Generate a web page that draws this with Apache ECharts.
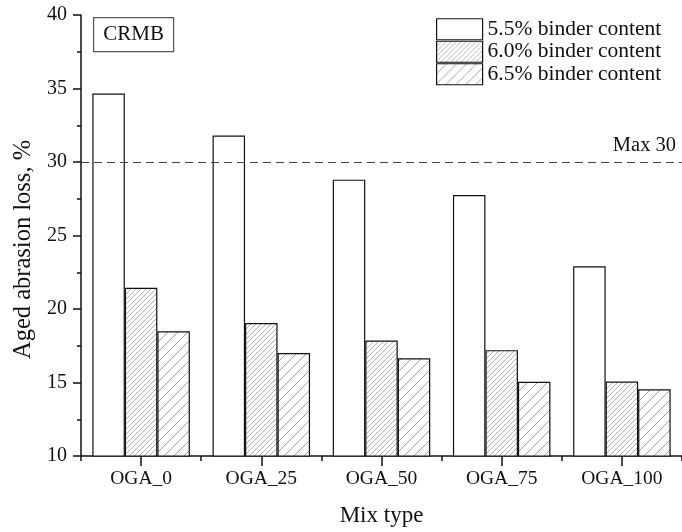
<!DOCTYPE html>
<html>
<head>
<meta charset="utf-8">
<script src="https://cdn.jsdelivr.net/npm/echarts@6/dist/echarts.min.js"></script>
<style>html,body{margin:0;padding:0;background:#fff}#c{width:682px;height:532px}</style>
</head>
<body>
<div id="c"></div>
<script>
const categories = ['OGA_0', 'OGA_25', 'OGA_50', 'OGA_75', 'OGA_100'];
const seriesNames = ['5.5% binder content', '6.0% binder content', '6.5% binder content'];
const binder55 = [34.66, 31.8, 28.8, 27.76, 22.9];
const binder60 = [21.45, 19.05, 17.85, 17.2, 15.06];
const binder65 = [18.48, 17.0, 16.65, 15.05, 14.54];
const limitValue = 30;
const limitLabel = 'Max 30';
const panelLabel = 'CRMB';
const yMin = 10, yMax = 40, yInterval = 5;
const xTitle = 'Mix type';
const yTitle = 'Aged abrasion loss, %';

const FONT = '"Liberation Serif", "DejaVu Serif", serif';

function hatch(step, color, width) {
  const c = document.createElement('canvas');
  c.width = step; c.height = step;
  const g = c.getContext('2d');
  g.fillStyle = '#fff';
  g.fillRect(0, 0, step, step);
  g.strokeStyle = color;
  g.lineWidth = width;
  g.beginPath();
  g.moveTo(-1, 1); g.lineTo(1, -1);
  g.moveTo(0, step); g.lineTo(step, 0);
  g.moveTo(step - 1, step + 1); g.lineTo(step + 1, step - 1);
  g.stroke();
  return { image: c, repeat: 'repeat' };
}

const chart = echarts.init(document.getElementById('c'), null, { renderer: 'canvas' });
const fills = ['#ffffff', hatch(5, '#a0a0a0', 0.8), hatch(10, '#8c8c8c', 0.8)];
const values = [binder55, binder60, binder65];

const series = seriesNames.map((name, i) => ({
  name: name,
  type: 'bar',
  xAxisIndex: 0,
  data: values[i],
  barWidth: 32.5,
  barGap: '0%',
  itemStyle: { color: fills[i], borderColor: '#111', borderWidth: 1.2 },
  emphasis: { disabled: true },
  markLine: i === 0 ? {
    silent: true,
    symbol: 'none',
    data: [{ yAxis: limitValue }],
    lineStyle: { type: [8, 5], color: '#444', width: 1.2 },
    label: {
      formatter: limitLabel, position: 'insideEndTop', distance: 6,
      color: '#111', fontFamily: FONT, fontSize: 20.5, padding: 0
    }
  } : undefined
}));

chart.setOption({
  backgroundColor: '#fff',
  animation: false,
  grid: { left: 81, right: -4, top: 15, bottom: 76, containLabel: false },
  legend: {
    orient: 'vertical', left: 436, top: 18, itemGap: 0, padding: 0,
    itemWidth: 46, itemHeight: 21, icon: 'rect',
    textStyle: { fontFamily: FONT, fontSize: 21.5, color: '#111', lineHeight: 22.5, padding: [0, 0, 0, 0] },
    itemStyle: { borderColor: '#111', borderWidth: 1.2 },
    data: seriesNames
  },
  xAxis: [{
    type: 'category', data: categories, position: 'bottom',
    name: xTitle, nameLocation: 'middle', nameGap: 48,
    nameTextStyle: { fontFamily: FONT, fontSize: 23, color: '#111' },
    axisLine: { lineStyle: { color: '#111', width: 1.5 } },
    axisTick: { show: true, alignWithLabel: false, length: 5, lineStyle: { color: '#111', width: 1.5 } },
    axisLabel: { fontFamily: FONT, fontSize: 19.5, color: '#111', margin: 13 },
    splitLine: { show: false }
  }, {
    type: 'category', data: categories, position: 'bottom',
    axisLine: { show: false },
    axisTick: { show: true, alignWithLabel: true, length: 10, lineStyle: { color: '#111', width: 1.5 } },
    axisLabel: { show: false },
    splitLine: { show: false }
  }],
  yAxis: {
    type: 'value', min: yMin, max: yMax, interval: yInterval,
    name: yTitle, nameLocation: 'middle', nameGap: 45,
    nameTextStyle: { fontFamily: FONT, fontSize: 24.5, color: '#111', padding: [0, 28, 0, 0] },
    axisLine: { show: true, lineStyle: { color: '#111', width: 1.5 } },
    axisTick: { show: true, length: 8, lineStyle: { color: '#111', width: 1.5 } },
    minorTick: { show: true, splitNumber: 2, length: 4, lineStyle: { color: '#111', width: 1.5 } },
    axisLabel: { fontFamily: FONT, fontSize: 20, color: '#111', margin: 14 },
    splitLine: { show: false }
  },
  graphic: [{
    type: 'group', left: 93, top: 17,
    children: [
      { type: 'rect', shape: { x: 0, y: 0, width: 80, height: 34 }, style: { fill: '#fff', stroke: '#555', lineWidth: 1.2 } },
      { type: 'text', x: 40, y: 17, style: { text: panelLabel, fontFamily: FONT, fontSize: 21, fill: '#111', align: 'center', verticalAlign: 'middle' } }
    ]
  }],
  series: series
});
</script>
</body>
</html>
